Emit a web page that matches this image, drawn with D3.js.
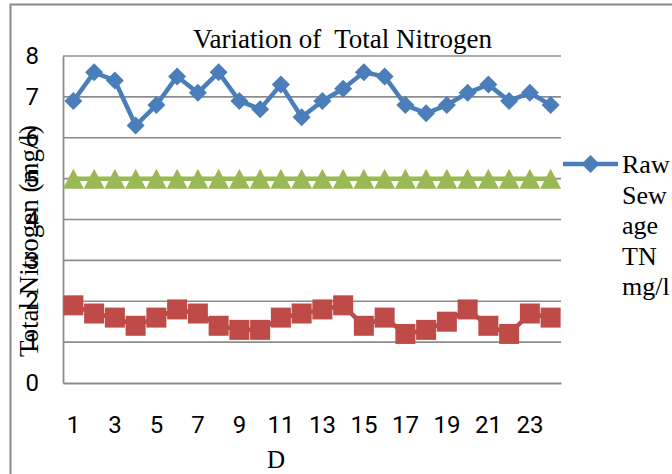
<!DOCTYPE html>
<html><head><meta charset="utf-8">
<script src="https://cdn.jsdelivr.net/npm/d3@7"></script>
<style>body{margin:0;background:#fff}svg{display:block}</style>
</head><body>
<script>
const days = d3.range(1, 25);
const rawTN = [6.9,7.6,7.4,6.3,6.8,7.5,7.1,7.6,6.9,6.7,7.3,6.5,6.9,7.2,7.6,7.5,6.8,6.6,6.8,7.1,7.3,6.9,7.1,6.8];
const treatedTN = [1.9,1.7,1.6,1.4,1.6,1.8,1.7,1.4,1.3,1.3,1.6,1.7,1.8,1.9,1.4,1.6,1.2,1.3,1.5,1.8,1.4,1.2,1.7,1.6];
const standardTN = [5,5,5,5,5,5,5,5,5,5,5,5,5,5,5,5,5,5,5,5,5,5,5,5];
const yTicks = [0,1,2,3,4,5,6,7,8];
const xTickLabels = [1,3,5,7,9,11,13,15,17,19,21,23];
const legendLines = ["Raw","Sew","age","TN","mg/l"];
const titleText = "Variation of  Total Nitrogen";
const xTitle = "D";
const yTitle = "Total Nitrogen (mg/l)";

const W = 672, H = 474;
const svg = d3.select("body").append("svg").attr("width", W).attr("height", H);
const serif = "'Liberation Serif','Times New Roman',serif";
const sans = "Roboto,'Liberation Sans',sans-serif";

// outer chart border
svg.append("rect").attr("x",10.5).attr("y",4.5).attr("width",720).attr("height",520)
  .attr("fill","none").attr("stroke","#8a8a8a").attr("stroke-width",2);

const x = d3.scaleBand().domain(days).range([63, 561]).padding(0);
const cx = d => x(d) + x.bandwidth()/2;
const y = d3.scaleLinear().domain([0, 8]).range([383, 56]);

// gridlines
svg.append("g").selectAll("line").data(yTicks.filter(t=>t>0)).join("line")
  .attr("x1",63).attr("x2",561).attr("y1",d=>y(d)).attr("y2",d=>y(d))
  .attr("stroke","#8c8c8c").attr("stroke-width",1.6);

// axes
const yAxis = d3.axisLeft(y).tickValues(yTicks).tickSize(0).tickPadding(24);
const gy = svg.append("g").attr("transform","translate(63,0)").call(yAxis);
gy.select(".domain").attr("stroke","#8c8c8c").attr("stroke-width",1.8);
gy.selectAll("text").attr("font-family",sans).attr("font-size",24).attr("fill","#000");

const xAxis = d3.axisBottom(x).tickValues(xTickLabels).tickSize(0).tickPadding(33);
const gx = svg.append("g").attr("transform","translate(0,383)").call(xAxis);
gx.select(".domain").attr("stroke","#8c8c8c").attr("stroke-width",1.8);
gx.selectAll("text").attr("font-family",sans).attr("font-size",24).attr("fill","#000");

const colors = {raw:"#4a7ebb", tr:"#be4b48", st:"#98b954"};
const line = d3.line().x((d,i)=>cx(days[i])).y(d=>y(d));

// treated (red squares)
svg.append("path").datum(treatedTN).attr("d",line).attr("fill","none")
  .attr("stroke",colors.tr).attr("stroke-width",4.5).attr("stroke-linejoin","round");
svg.append("g").selectAll("rect").data(treatedTN).join("rect")
  .attr("x",(d,i)=>cx(days[i])-10).attr("y",d=>y(d)-10).attr("width",20).attr("height",20)
  .attr("fill",colors.tr);

// standard (green triangles)
svg.append("path").datum(standardTN).attr("d",line).attr("fill","none")
  .attr("stroke",colors.st).attr("stroke-width",4.5);
svg.append("g").selectAll("path").data(standardTN).join("path")
  .attr("d",(d,i)=>{const px=cx(days[i]), py=y(d); return `M${px},${py-10}L${px+10.5},${py+10}L${px-10.5},${py+10}Z`;})
  .attr("fill",colors.st);

// raw (blue diamonds)
svg.append("path").datum(rawTN).attr("d",line).attr("fill","none")
  .attr("stroke",colors.raw).attr("stroke-width",4.5).attr("stroke-linejoin","round");
const diamond = (px,py,r)=>`M${px},${py-r}L${px+r},${py}L${px},${py+r}L${px-r},${py}Z`;
svg.append("g").selectAll("path").data(rawTN).join("path")
  .attr("d",(d,i)=>diamond(cx(days[i]),y(d),9)).attr("fill",colors.raw);

// titles
svg.append("text").attr("x",342.5).attr("y",48).attr("text-anchor","middle")
  .attr("font-family",serif).attr("font-size",27).attr("fill","#000")
  .attr("xml:space","preserve").style("white-space","pre").text(titleText);
svg.append("text").attr("x",276).attr("y",468).attr("text-anchor","middle")
  .attr("font-family",serif).attr("font-size",25).attr("fill","#000").text(xTitle);
svg.append("text").attr("transform","translate(38,241) rotate(-90)").attr("text-anchor","middle")
  .attr("font-family",serif).attr("font-size",27).attr("fill","#000").text(yTitle);

// legend
svg.append("line").attr("x1",563).attr("x2",618).attr("y1",164).attr("y2",164)
  .attr("stroke",colors.raw).attr("stroke-width",4.5);
svg.append("path").attr("d",diamond(590.5,164,9)).attr("fill",colors.raw);
svg.append("g").selectAll("text").data(legendLines).join("text")
  .attr("x",622).attr("y",(d,i)=>173+i*30.5)
  .attr("font-family",serif).attr("font-size",26).attr("fill","#000").text(d=>d);
</script>
</body></html>
